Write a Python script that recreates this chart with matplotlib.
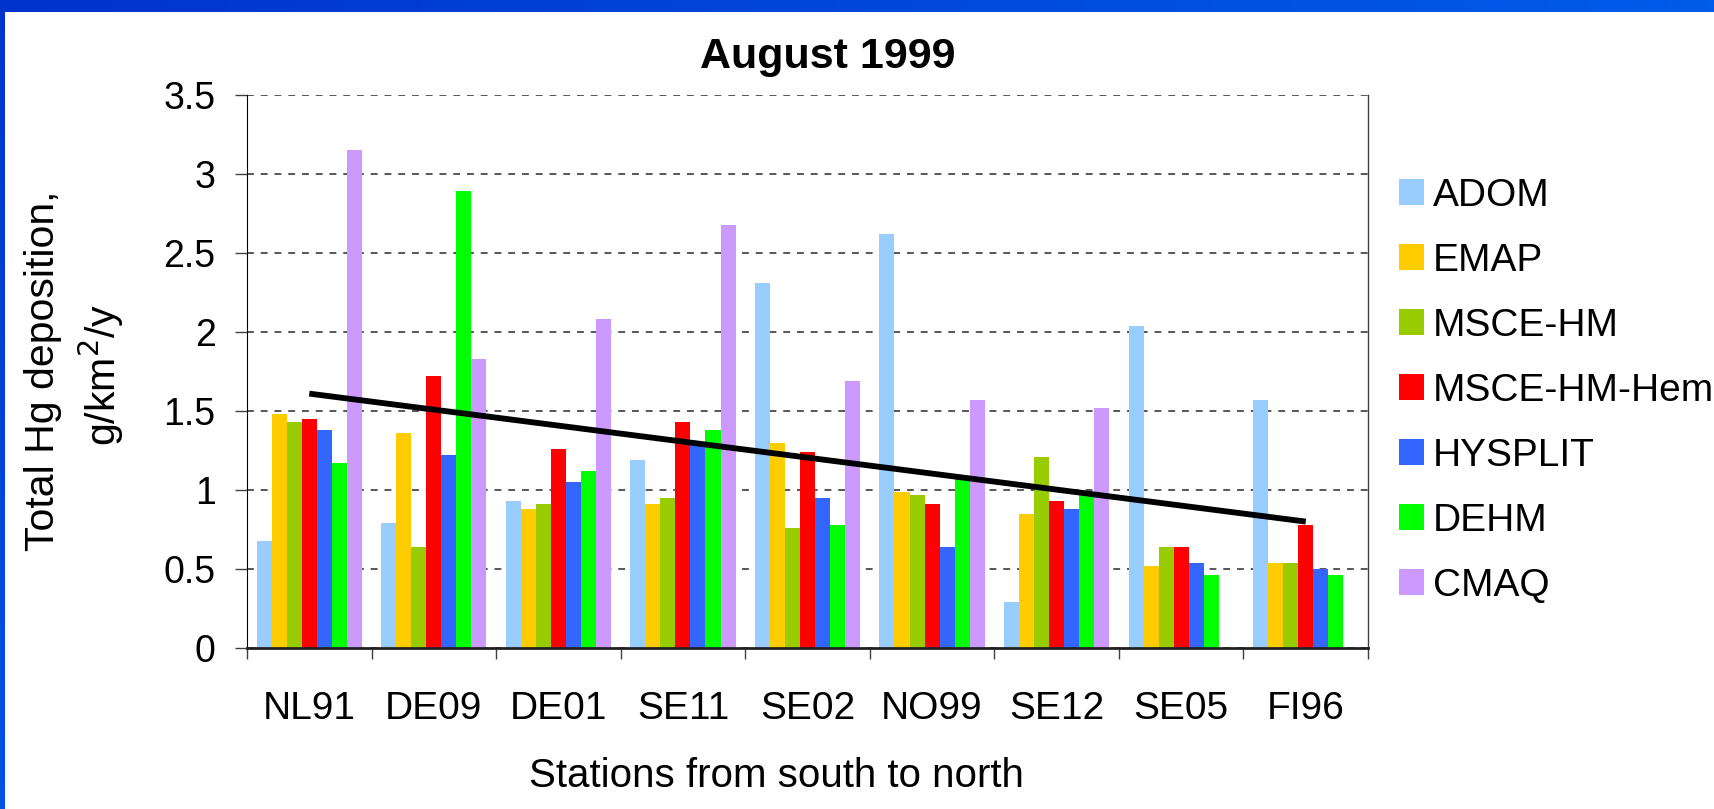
import numpy as np
import matplotlib
matplotlib.use("Agg")
import matplotlib.pyplot as plt
from matplotlib.colors import LinearSegmentedColormap

# ---- data -------------------------------------------------------------
stations = ["NL91", "DE09", "DE01", "SE11", "SE02", "NO99", "SE12", "SE05", "FI96"]
models = ["ADOM", "EMAP", "MSCE-HM", "MSCE-HM-Hem", "HYSPLIT", "DEHM", "CMAQ"]

adom = [0.68, 0.79, 0.93, 1.19, 2.31, 2.62, 0.29, 2.04, 1.57]
emap = [1.48, 1.36, 0.88, 0.91, 1.30, 0.99, 0.85, 0.52, 0.54]
msce_hm = [1.43, 0.64, 0.91, 0.95, 0.76, 0.97, 1.21, 0.64, 0.54]
msce_hm_hem = [1.45, 1.72, 1.26, 1.43, 1.24, 0.91, 0.93, 0.64, 0.78]
hysplit = [1.38, 1.22, 1.05, 1.30, 0.95, 0.64, 0.88, 0.54, 0.50]
dehm = [1.17, 2.89, 1.12, 1.38, 0.78, 1.08, 0.97, 0.46, 0.46]
cmaq = [3.15, 1.83, 2.08, 2.68, 1.69, 1.57, 1.52, np.nan, np.nan]

# linear trend across the stations (first and last station)
trend_start = 1.61
trend_end = 0.80

yticks = [0, 0.5, 1, 1.5, 2, 2.5, 3, 3.5]
ytick_labels = ["0", "0.5", "1", "1.5", "2", "2.5", "3", "3.5"]

colors = ["#99ccff", "#ffcc00", "#99cc00", "#ff0000", "#3366ff", "#00ff00", "#cc99ff"]

# ---- figure -----------------------------------------------------------
plt.rcParams["font.family"] = ["Liberation Sans", "DejaVu Sans"]
W, H = 1715, 809
fig = plt.figure(figsize=(W / 100, H / 100), dpi=100)
fig.patch.set_facecolor("white")

# slide frame: blue band on top, thin strip on the left
band = fig.add_axes([0, 1 - 12 / H, 1, 12 / H])
band.imshow(np.linspace(0, 1, 256)[None, :], aspect="auto",
            cmap=LinearSegmentedColormap.from_list("b", ["#0033cc", "#005cea"]))
band.set_axis_off()
strip = fig.add_axes([0, 0, 5 / W, 1])
strip.imshow(np.linspace(0, 1, 256)[:, None], aspect="auto",
             cmap=LinearSegmentedColormap.from_list("s", ["#0052e6", "#0033cc"]),
             origin="lower")
strip.set_axis_off()

x0, x1, ytop, ybot = 247, 1368, 95, 648
ax = fig.add_axes([x0 / W, 1 - ybot / H, (x1 - x0) / W, (ybot - ytop) / H])

series = [adom, emap, msce_hm, msce_hm_hem, hysplit, dehm, cmaq]
x = np.arange(len(stations))
bw = 0.845 / len(models)
handles = []
for i, (vals, c, name) in enumerate(zip(series, colors, models)):
    b = ax.bar(x + (i - 3) * bw, vals, width=bw, color=c, label=name,
               linewidth=0, zorder=2)
    handles.append(b)

ax.plot([x[0], x[-1]], [trend_start, trend_end], color="black", lw=4.2,
        solid_capstyle="butt", zorder=3)

ax.set_xlim(-0.5, len(stations) - 0.5)
ax.set_ylim(0, 3.5)
ax.set_yticks(yticks, ytick_labels)
ax.tick_params(axis="y", length=8.6, width=1, color="#404040", pad=14,
               labelsize=27)

# category boundaries carry the tick marks, centres carry the labels
ax.set_xticks(np.arange(-0.5, len(stations), 1.0))
ax.set_xticklabels([])
ax.set_xticks(x, stations, minor=True)
ax.tick_params(axis="x", which="major", length=8, width=1, color="#404040")
ax.tick_params(axis="x", which="minor", length=0, pad=31, labelsize=28)

ax.yaxis.grid(True, linestyle=(0, (4.5, 4.5)), color="#2a2a2a", lw=1.1, zorder=1)
ax.set_axisbelow(True)
ax.spines["top"].set_visible(False)
ax.spines["right"].set_color("#404040")
ax.spines["right"].set_linewidth(1)
ax.spines["left"].set_color("black")
ax.spines["bottom"].set_color("#222222")
ax.spines["bottom"].set_linewidth(2)

# titles and axis labels
fig.text(828 / W, 1 - 68 / H, "August 1999", ha="center", va="baseline",
         fontsize=31, fontweight="bold")
fig.text(776 / W, 1 - 787 / H, "Stations from south to north", ha="center",
         va="baseline", fontsize=29)
fig.text(54 / W, 1 - 371 / H, "Total Hg deposition,", rotation=90,
         rotation_mode="anchor", ha="center", va="baseline", fontsize=29.5)
fig.text(116 / W, 1 - 375 / H, r"g/km$^{2}$/y", rotation=90,
         rotation_mode="anchor", ha="center", va="baseline", fontsize=29.5)

leg = fig.legend(handles=handles, labels=models, loc="upper left",
                 bbox_to_anchor=(1399 / W, 1 - 178 / H), frameon=False,
                 fontsize=28, handlelength=0.64, handleheight=0.64,
                 handletextpad=0.24, labelspacing=0.745, borderpad=0,
                 borderaxespad=0)

fig.savefig("out.png", dpi=100, facecolor="white")
